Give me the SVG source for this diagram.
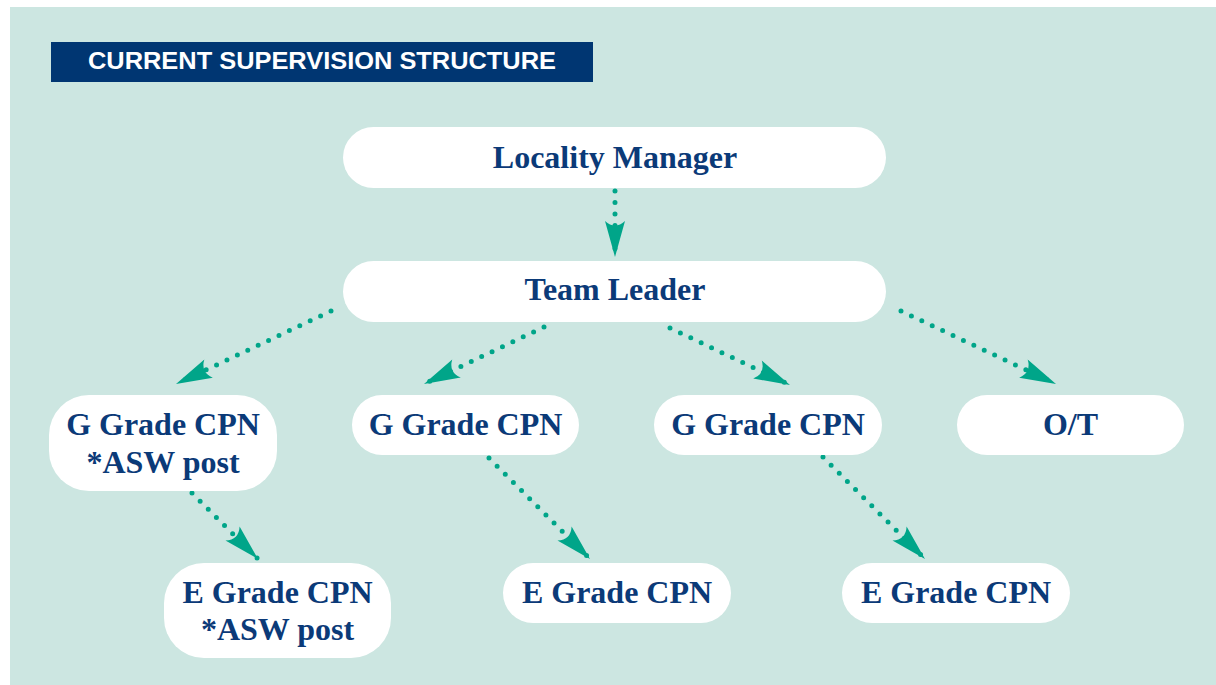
<svg xmlns="http://www.w3.org/2000/svg" width="1216" height="685" viewBox="0 0 1216 685">
  <style>
    .node rect { fill: #ffffff; }
    .node text { font-family: "Liberation Serif", "Times New Roman", serif; font-weight: bold; font-size: 32px; fill: #0b3a78; text-anchor: middle; }
    .link { fill: none; stroke: #00a589; stroke-width: 5; stroke-linecap: round; stroke-dasharray: 0 11.5; }
    .title { font-family: "Liberation Sans", Arial, sans-serif; font-weight: bold; font-size: 23px; fill: #ffffff; }
  </style>
  <defs>
    <marker id="head" markerUnits="userSpaceOnUse" viewBox="-37 -11 38 22" markerWidth="38" markerHeight="22" refX="0" refY="0" orient="auto">
      <path d="M0,0 L-36,-10 Q-27,0 -36,10 Z" fill="#00a589"/>
    </marker>
  </defs>

  <!-- background panel -->
  <rect x="10" y="7" width="1206" height="678" fill="#cce6e1"/>

  <!-- heading bar -->
  <g id="heading">
    <rect x="51" y="42" width="542" height="40" fill="#003672"/>
    <text class="title" x="88" y="69" textLength="468" lengthAdjust="spacingAndGlyphs">CURRENT SUPERVISION STRUCTURE</text>
  </g>

  <!-- connectors -->
  <g id="connectors">
    <path class="link" d="M615,191 L615,257" marker-end="url(#head)"/>
    <path class="link" d="M331,311 L176,384" marker-end="url(#head)"/>
    <path class="link" d="M544,327 L424,384" marker-end="url(#head)"/>
    <path class="link" d="M670,328 L790,385" marker-end="url(#head)"/>
    <path class="link" d="M901,311 L1056,384" marker-end="url(#head)"/>
    <path class="link" d="M192,493 L258,559" marker-end="url(#head)"/>
    <path class="link" d="M489,458 L590,559" marker-end="url(#head)"/>
    <path class="link" d="M823,457 L925,559" marker-end="url(#head)"/>
  </g>

  <!-- nodes -->
  <g id="locality-manager" class="node">
    <rect x="343" y="127" width="543" height="61" rx="30.5"/>
    <text x="615" y="168">Locality Manager</text>
  </g>
  <g id="team-leader" class="node">
    <rect x="343" y="261" width="543" height="61" rx="30.5"/>
    <text x="615" y="300">Team Leader</text>
  </g>
  <g id="g-grade-1" class="node">
    <rect x="49" y="395" width="228" height="96" rx="40"/>
    <text x="163" y="435">G Grade CPN</text>
    <text x="163" y="473">*ASW post</text>
  </g>
  <g id="g-grade-2" class="node">
    <rect x="352" y="395" width="227" height="60" rx="30"/>
    <text x="465.5" y="435">G Grade CPN</text>
  </g>
  <g id="g-grade-3" class="node">
    <rect x="654" y="395" width="228" height="60" rx="30"/>
    <text x="768" y="435">G Grade CPN</text>
  </g>
  <g id="ot" class="node">
    <rect x="957" y="395" width="227" height="60" rx="30"/>
    <text x="1070.5" y="435">O/T</text>
  </g>
  <g id="e-grade-1" class="node">
    <rect x="164" y="563" width="227" height="95" rx="40"/>
    <text x="277.5" y="603">E Grade CPN</text>
    <text x="277.5" y="640">*ASW post</text>
  </g>
  <g id="e-grade-2" class="node">
    <rect x="503" y="563" width="228" height="60" rx="30"/>
    <text x="617" y="603">E Grade CPN</text>
  </g>
  <g id="e-grade-3" class="node">
    <rect x="842" y="563" width="228" height="60" rx="30"/>
    <text x="956" y="603">E Grade CPN</text>
  </g>
</svg>
